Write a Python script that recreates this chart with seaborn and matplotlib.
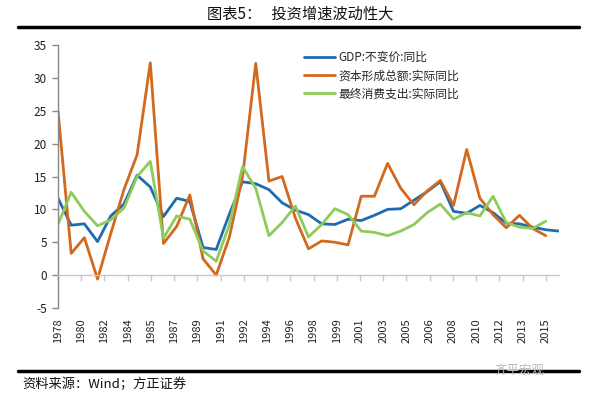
import numpy as np
import pandas as pd
import matplotlib
matplotlib.use("Agg")
import matplotlib.pyplot as plt
import seaborn as sns

years_gdp = list(range(1978, 2017))
gdp = [11.7, 7.6, 7.8, 5.1, 9.0, 10.8, 15.2, 13.4, 8.9, 11.7, 11.2, 4.2, 3.9,
       9.3, 14.2, 13.9, 13.0, 11.0, 9.9, 9.2, 7.8, 7.7, 8.5, 8.3, 9.1, 10.0,
       10.1, 11.4, 12.7, 14.2, 9.7, 9.4, 10.6, 9.5, 7.9, 7.8, 7.3, 6.9, 6.7]

years_other = list(range(1978, 2016))
capital = [25.0, 3.3, 5.7, -0.6, 6.3, 13.0, 18.3, 32.3, 4.8, 7.4, 12.2, 2.5,
           0.0, 5.8, 15.0, 32.2, 14.3, 15.0, 8.7, 4.0, 5.2, 5.0, 4.6, 12.0,
           12.0, 17.0, 13.2, 10.7, 12.8, 14.4, 10.6, 19.1, 11.7, 9.2, 7.2,
           9.1, 7.1, 6.0]
consumption = [7.7, 12.6, 9.7, 7.5, 8.4, 10.2, 15.0, 17.3, 5.6, 9.0, 8.5, 3.7,
               2.1, 7.7, 16.5, 13.2, 6.0, 8.0, 10.5, 5.8, 7.7, 10.1, 9.2, 6.7,
               6.5, 6.0, 6.7, 7.7, 9.5, 10.8, 8.5, 9.5, 9.0, 12.0, 8.0, 7.3,
               7.1, 8.2]

names = ["GDP:不变价:同比", "资本形成总额:实际同比", "最终消费支出:实际同比"]
colors = ["#1F6BB0", "#D2691E", "#8DCB5A"]

tick_labels = ["1978", "1980", "1982", "1984", "1985", "1987", "1989", "1991",
               "1992", "1994", "1996", "1998", "1999", "2001", "2003", "2005",
               "2006", "2008", "2010", "2012", "2013", "2015"]
y_ticks = [-5, 0, 5, 10, 15, 20, 25, 30, 35]

df = pd.concat([
    pd.DataFrame({"year": years_gdp, "value": gdp, "series": names[0]}),
    pd.DataFrame({"year": years_other, "value": capital, "series": names[1]}),
    pd.DataFrame({"year": years_other, "value": consumption, "series": names[2]}),
])

sns.set_theme(style="white")
plt.rcParams["font.family"] = ["Noto Sans CJK SC", "DejaVu Sans"]

fig = plt.figure(figsize=(6.0, 3.96), dpi=100)
ax = fig.add_axes([58 / 600, 1 - 308 / 396, (559 - 58) / 600, (308 - 45) / 396])

sns.lineplot(data=df, x="year", y="value", hue="series", hue_order=names,
             palette=colors, linewidth=2.0, ax=ax, legend=False)

ax.set_xlim(1978, 2016)
ax.set_ylim(-5, 35)
ax.set_yticks(y_ticks)
ax.set_yticklabels([str(v) for v in y_ticks], fontsize=8.5, color="#222222")
ax.set_xlabel("")
ax.set_ylabel("")

for s in ["top", "right"]:
    ax.spines[s].set_visible(False)
ax.spines["left"].set_color("#888888")
ax.spines["left"].set_linewidth(1.0)
ax.spines["bottom"].set_position(("data", 0))
ax.spines["bottom"].set_color("#C8C8C8")
ax.spines["bottom"].set_linewidth(1.0)
ax.tick_params(axis="y", which="both", left=True, length=4, width=1,
               color="#888888", direction="out", pad=4)

tick_pos = np.linspace(1978, 2015, len(tick_labels))
ax.set_xticks(tick_pos)
ax.set_xticklabels(tick_labels, rotation=90, fontsize=8, color="#222222")
ax.tick_params(axis="x", bottom=True, length=4, width=1, color="#C8C8C8",
               direction="out", pad=27)

handles = [plt.Line2D([0], [0], color=c, lw=2.0) for c in colors]
leg = ax.legend(handles, names, loc="upper left", bbox_to_anchor=(0.48, 1.0),
                frameon=False, fontsize=8.5, handlelength=2.6, handletextpad=0.3,
                labelspacing=0.45, borderaxespad=0.1)

# title and frame lines
fig.text(0.5, 1 - 14 / 396, "图表5：   投资增速波动性大", ha="center", va="center",
         fontsize=11, color="#111111")
fig.add_artist(plt.Line2D([0.03, 0.965], [1 - 27 / 396, 1 - 27 / 396],
                          color="black", lw=2.5))
fig.add_artist(plt.Line2D([0.03, 0.965], [1 - 371 / 396, 1 - 371 / 396],
                          color="black", lw=2.5))
fig.text(22 / 600, 1 - 384 / 396, "资料来源：Wind；方正证券", ha="left", va="center",
         fontsize=9.5, style="italic", color="#111111")
fig.text(520 / 600, 1 - 370 / 396, "齐平宏观", ha="center", va="center",
         fontsize=9, color="#BBBBBB")

fig.savefig("out.png", dpi=100)
